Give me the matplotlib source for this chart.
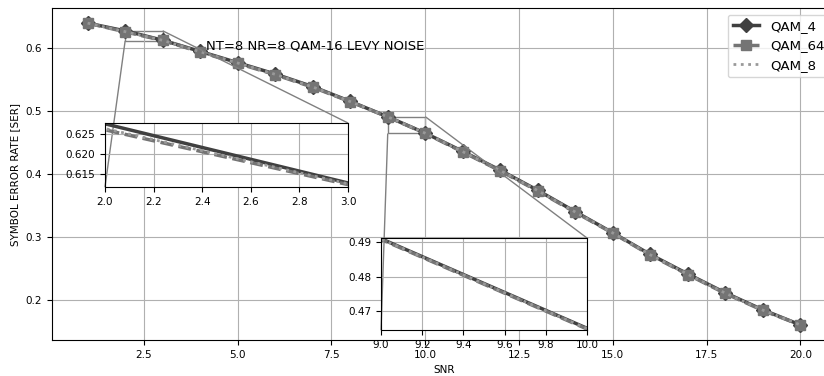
import numpy as np
import matplotlib
matplotlib.use("Agg")
import matplotlib.pyplot as plt
from mpl_toolkits.axes_grid1.inset_locator import mark_inset

# SER curves
snr = np.arange(1, 21)
qam4 = [0.640, 0.6276, 0.6128, 0.595, 0.577, 0.559, 0.539, 0.5155, 0.4910, 0.4650,
        0.436, 0.406, 0.374, 0.340, 0.3065, 0.272, 0.241, 0.211, 0.184, 0.160]
qam64 = [0.640, 0.6261, 0.6124, 0.594, 0.576, 0.558, 0.538, 0.515, 0.4908, 0.4648,
         0.435, 0.405, 0.373, 0.339, 0.306, 0.271, 0.240, 0.210, 0.183, 0.160]
qam8 = [0.640, 0.6264, 0.6126, 0.5945, 0.5765, 0.5585, 0.5385, 0.5152, 0.4909, 0.4649,
        0.4355, 0.4055, 0.3735, 0.3395, 0.3062, 0.2715, 0.2405, 0.2105, 0.1835, 0.160]

labels = ["QAM_4", "QAM_64", "QAM_8"]
title_txt = "NT=8 NR=8 QAM-16 LEVY NOISE"

fs = 7.5


def draw(a, mark=True):
    a.plot(snr, qam4, color="#404040", lw=2.5, marker="D" if mark else None, ms=7.5,
           label=labels[0])
    a.plot(snr, qam64, color="#747474", lw=2.5, ls="--", marker="s" if mark else None,
           ms=7, label=labels[1])
    a.plot(snr, qam8, color="#999999", lw=2, ls=":", label=labels[2])
    a.grid(True, color="#b0b0b0", lw=0.8)
    a.tick_params(labelsize=fs)


fig = plt.figure(figsize=(8.24, 3.76), dpi=100)
ax = fig.add_axes([0.0631, 0.0957, 0.9515, 0.883])
draw(ax)
ax.set_xlim(0.05, 20.95)
ax.set_ylim(0.136, 0.664)
ax.set_xlabel("SNR", fontsize=fs)
ax.set_ylabel("SYMBOL ERROR RATE [SER]", fontsize=fs)
ax.text(4.15, 0.598, title_txt, fontsize=9.5, va="baseline")
ax.legend(loc="upper right", fontsize=9.5)

# zoom 1
ax1 = fig.add_axes([0.1274, 0.5027, 0.2949, 0.1702])
draw(ax1, mark=False)
ax1.set_xlim(2.0, 3.0)
ax1.set_ylim(0.6118, 0.6278)
ax1.set_yticks([0.615, 0.620, 0.625])
ax1.set_yticklabels(["0.615", "0.620", "0.625"])
mark_inset(ax, ax1, loc1=1, loc2=3, fc="none", ec="0.5", lw=1)

# zoom 2
ax2 = fig.add_axes([0.4624, 0.1223, 0.25, 0.2447])
draw(ax2, mark=False)
ax2.set_xlim(9.0, 10.0)
ax2.set_ylim(0.4645, 0.4912)
ax2.set_yticks([0.47, 0.48, 0.49])
mark_inset(ax, ax2, loc1=1, loc2=3, fc="none", ec="0.5", lw=1)

fig.savefig("out.png", dpi=100)
